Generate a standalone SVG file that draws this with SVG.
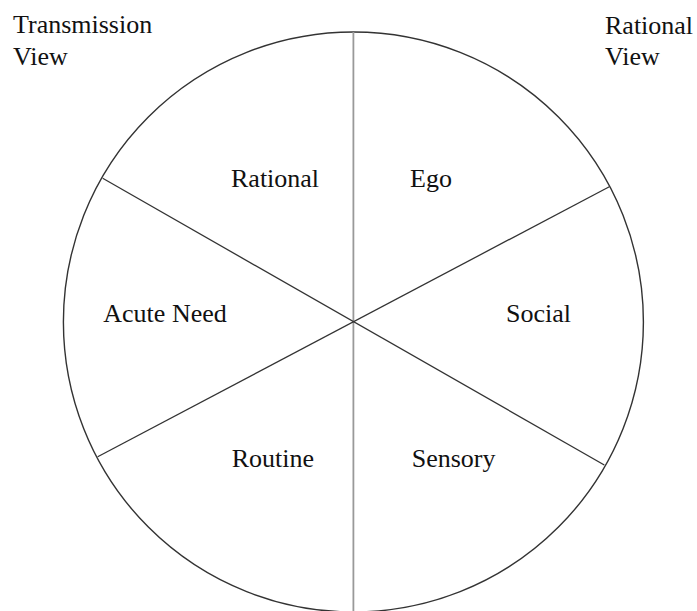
<svg xmlns="http://www.w3.org/2000/svg" width="697" height="611" viewBox="0 0 697 611">
<style>
text{font-size:26px;fill:#111;font-family:'Liberation Serif','Tinos','Times New Roman',Times,'DejaVu Serif',serif}
.c{fill:none;stroke:#333;stroke-width:1.4}
.d{stroke:#333;stroke-width:1.3}
.v{stroke:#999;stroke-width:1.8}
</style>
<rect width="697" height="611" fill="#fff"/>
<g id="wheel">
<circle class="c" cx="353.4" cy="322" r="290"/>
</g>
<g id="connectors">
<line class="v" x1="353.4" y1="32" x2="353.4" y2="611"/>
<line class="d" x1="102.7" y1="178.3" x2="604.3" y2="465"/>
<line class="d" x1="97.7" y1="456.7" x2="609.3" y2="186.7"/>
</g>
<g id="transmission-view"><text x="13" y="33">Transmission</text><text x="13" y="65">View</text></g>
<g id="rational-view"><text x="605" y="34">Rational</text><text x="605" y="65">View</text></g>
<g id="rational"><text x="231" y="186.5">Rational</text></g>
<g id="ego"><text x="410" y="186.5">Ego</text></g>
<g id="acute-need"><text x="103.3" y="322.3">Acute Need</text></g>
<g id="social"><text x="506" y="322.3">Social</text></g>
<g id="routine"><text x="231.7" y="466.7">Routine</text></g>
<g id="sensory"><text x="411.7" y="466.7">Sensory</text></g>
</svg>
